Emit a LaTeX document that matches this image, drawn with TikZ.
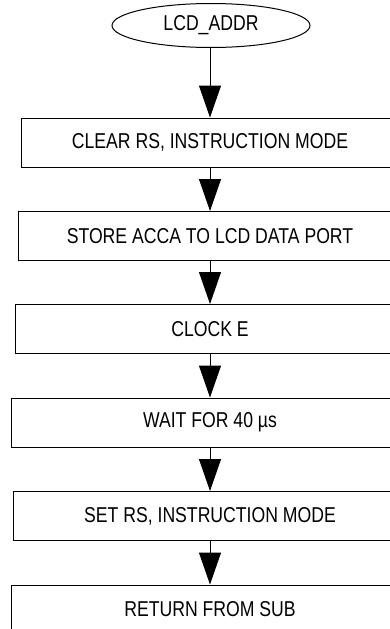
\documentclass[tikz,border=0pt]{standalone}
\usepackage{fontspec}
\setmainfont{Liberation Sans}[FakeStretch=0.82]
\usetikzlibrary{arrows.meta,shapes.geometric}

\tikzset{
  terminal/.style={draw,ellipse,line width=1pt,minimum width=198pt,minimum height=44pt,inner sep=0pt},
  stepbox/.style={draw,line width=1pt,minimum height=49pt,inner sep=0pt},
}

\begin{document}
\begin{tikzpicture}[x=1pt,y=-1pt,>={Triangle[width=22pt,length=32pt]},
    font=\fontsize{21.5}{25}\selectfont]
  \useasboundingbox (0,0) rectangle (390,629);
  \clip (0,0) rectangle (390,629);
  \node[terminal] (addr) at (211,25.5) {LCD\_ADDR};
  \node[stepbox,minimum width=378pt] (clrrs) at (210,142.5) {CLEAR RS, INSTRUCTION MODE};
  \node[stepbox,minimum width=384pt] (store) at (210,236) {STORE ACCA TO LCD DATA PORT};
  \node[stepbox,minimum width=390pt] (clke) at (210,329) {CLOCK E};
  \node[stepbox,minimum width=398pt] (wait) at (210,422.5) {WAIT FOR 40 µs};
  \node[stepbox,minimum width=394pt] (setrs) at (210,516) {SET RS, INSTRUCTION MODE};
  \node[stepbox,minimum width=398pt] (ret) at (210,609.5) {RETURN FROM SUB};
  % flow arrows
  \draw[->,line width=1pt] (addr.south -| clrrs.north) -- (clrrs.north);
  \foreach \a/\b in {clrrs/store, store/clke, clke/wait, wait/setrs, setrs/ret}
    \draw[->,line width=1pt] (\a.south) -- (\b.north);
\end{tikzpicture}
\end{document}
